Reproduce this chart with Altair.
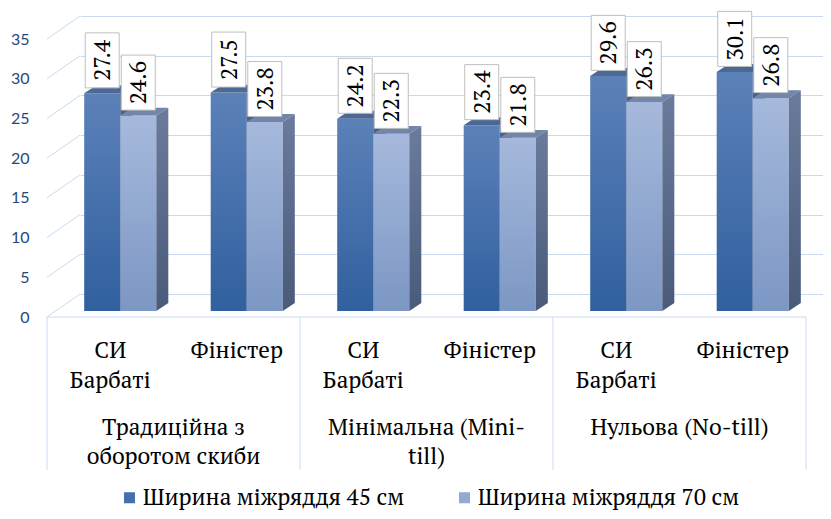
import altair as alt
import pandas as pd

# ---------------- data ----------------
groups = [["Традиційна з", "оборотом скиби"], ["Мінімальна (Mini-", "till)"], ["Нульова (No-till)"]]
varieties = [["СИ", "Барбаті"], ["Фіністер"]]
series = ["Ширина міжряддя 45 см", "Ширина міжряддя 70 см"]
values_45 = [27.4, 27.5, 24.2, 23.4, 29.6, 30.1]
values_70 = [24.6, 23.8, 22.3, 21.8, 26.3, 26.8]
y_ticks = [0, 5, 10, 15, 20, 25, 30, 35]

# ---------------- geometry / style ----------------
BW = 0.285   # bar width in slot units
DX = 0.095   # 3D depth in x (slot units)
DY = 1.0     # 3D depth in y (value units)
GRID = "#c8daf0"
SERIF = "PT Serif, Liberation Serif, serif"
FS = 23

def grad(top, bottom):
    return alt.Gradient(
        gradient="linear",
        stops=[alt.GradientStop(color=top, offset=0), alt.GradientStop(color=bottom, offset=1)],
        x1=0, x2=0, y1=0, y2=1,
    )

front_col = [grad("#5c81b9", "#30609e"), grad("#a6b9dc", "#7c97c4")]
top_col = ["#4c6894", "#7286a9"]
side_col = [grad("#4a6490", "#344d78"), grad("#6a7b9c", "#4a5a79")]
legend_col = ["#4470ad", "#93a9d2"]

n_slots = len(values_45)
rows_front, rows_top, rows_side = [], [], []
for i in range(n_slots):
    c = i + 0.5
    for s, vals in enumerate([values_45, values_70]):
        v = vals[i]
        xl = c - BW if s == 0 else c
        xr = c if s == 0 else c + BW
        bid = f"{i}_{s}"
        rows_front.append(dict(bar=bid, s=s, series=series[s], xl=xl, xr=xr,
                               c=(xl + xr) / 2, v=v, zero=0))
        rows_top += [
            dict(bar=bid, s=s, x=xl, y=v, y2=v),
            dict(bar=bid, s=s, x=xl + DX, y=v, y2=v + DY),
            dict(bar=bid, s=s, x=xr, y=v, y2=v + DY),
            dict(bar=bid, s=s, x=xr + DX, y=v + DY, y2=v + DY),
        ]
        rows_side += [
            dict(bar=bid, s=s, x=xr, y=0, y2=v),
            dict(bar=bid, s=s, x=xr + DX, y=DY, y2=v + DY),
        ]
df_front = pd.DataFrame(rows_front)
df_top = pd.DataFrame(rows_top)
df_side = pd.DataFrame(rows_side)

df_ticks = pd.DataFrame({"t": y_ticks, "front": [0] * len(y_ticks)})
df_var = pd.DataFrame({"c": [i + 0.5 for i in range(n_slots)],
                       "label": ["\n".join(varieties[i % 2]) for i in range(n_slots)]})
df_grp = pd.DataFrame({"c": [2 * g + 1 for g in range(len(groups))],
                       "label": ["\n".join(g) for g in groups]})
df_div = pd.DataFrame({"b": [0, 2, 4, 6], "zero": [0, 0, 0, 0]})
df_edge = pd.DataFrame({"b0": [0], "b1": [6], "zero": [0]})

xs = alt.Scale(domain=[0.2609, 6.1344], nice=False, zero=False)
ys = alt.Scale(domain=[0, 35], nice=False, zero=False)
yaxis = alt.Axis(values=y_ticks, grid=True, gridColor=GRID, gridWidth=1, domain=False,
                 ticks=False, tickSize=0, labelPadding=51, labelOffset=23,
                 labelFont="Lato", labelFontSize=16, labelColor="#1f497d", title=None)

# perspective pieces of the grid (front edge -> back wall)
diag = alt.Chart(df_ticks).mark_rule(color=GRID, strokeWidth=1, yOffset=23).encode(
    x=alt.X("front:Q", scale=xs, axis=None),
    x2=alt.value(0),
    y=alt.Y("t:Q", scale=ys, axis=yaxis),
    y2="t:Q",
)
# category box
box_top = alt.Chart(df_edge).mark_rule(color=GRID, strokeWidth=1, yOffset=23).encode(
    x=alt.X("b0:Q", scale=xs, axis=None), x2="b1:Q",
    y=alt.Y("zero:Q", scale=ys, axis=yaxis),
)
dividers = alt.Chart(df_div).mark_rule(color=GRID, strokeWidth=1, yOffset=23).encode(
    x=alt.X("b:Q", scale=xs, axis=None),
    y=alt.Y("zero:Q", scale=ys, axis=yaxis),
    y2=alt.value(454),
)

legend_layer = alt.Chart(df_front).mark_point(shape="square", filled=True, opacity=0).encode(
    x=alt.X("c:Q", scale=xs, axis=None),
    y=alt.Y("v:Q", scale=ys, axis=yaxis),
    color=alt.Color("series:N", scale=alt.Scale(domain=series, range=legend_col),
                    legend=alt.Legend(orient="none", legendX=38, legendY=470,
                                      direction="horizontal", title=None, padding=0,
                                      symbolType="square", symbolSize=121,
                                      symbolOpacity=1, symbolStrokeWidth=0,
                                      labelFont=SERIF, labelFontSize=FS,
                                      labelColor="black", labelOffset=2,
                                      columnPadding=48, labelLimit=0)),
)

bar_layers = []
for s in range(2):
    fr = alt.Chart(df_front[df_front.s == s]).mark_rect(
        color=front_col[s], xOffset=10, x2Offset=10, yOffset=17, y2Offset=17
    ).encode(
        x=alt.X("xl:Q", scale=xs, axis=None), x2="xr:Q",
        y=alt.Y("v:Q", scale=ys, axis=yaxis), y2="zero:Q",
    )
    tp = alt.Chart(df_top[df_top.s == s]).mark_area(
        color=top_col[s], orient="vertical", xOffset=10, yOffset=17, y2Offset=17
    ).encode(
        x=alt.X("x:Q", scale=xs, axis=None),
        y=alt.Y("y:Q", scale=ys, axis=yaxis), y2="y2:Q",
        detail="bar:N",
    )
    sd = alt.Chart(df_side[df_side.s == s]).mark_area(
        color=side_col[s], orient="vertical", xOffset=10, yOffset=17, y2Offset=17
    ).encode(
        x=alt.X("x:Q", scale=xs, axis=None),
        y=alt.Y("y:Q", scale=ys, axis=yaxis), y2="y2:Q",
        detail="bar:N",
    )
    bar_layers += [fr, tp, sd]

box_path = "M-0.618,-1L0.618,-1L0.618,1L-0.618,1Z"
lab_box = alt.Chart(df_front).mark_point(
    shape=box_path, size=3025, filled=True, fill="white", stroke="#bfbfbf",
    strokeWidth=1, opacity=1, xOffset=10, yOffset=-16
).encode(
    x=alt.X("c:Q", scale=xs, axis=None),
    y=alt.Y("v:Q", scale=ys, axis=yaxis),
)
lab_txt = alt.Chart(df_front).mark_text(
    angle=270, font=SERIF, fontSize=FS, color="black", align="center",
    baseline="middle", xOffset=11, yOffset=-16
).encode(
    x=alt.X("c:Q", scale=xs, axis=None),
    y=alt.Y("v:Q", scale=ys, axis=yaxis),
    text=alt.Text("v:Q", format=".1f"),
)

var_txt = alt.Chart(df_var).mark_text(
    font=SERIF, fontSize=FS, color="black", align="center", baseline="alphabetic",
    lineBreak="\n", lineHeight=30
).encode(
    x=alt.X("c:Q", scale=xs, axis=None), y=alt.value(342), text="label:N",
)
grp_txt = alt.Chart(df_grp).mark_text(
    font=SERIF, fontSize=FS, color="black", align="center", baseline="alphabetic",
    lineBreak="\n", lineHeight=29
).encode(
    x=alt.X("c:Q", scale=xs, axis=None), y=alt.value(419), text="label:N",
)

chart = alt.layer(
    diag, box_top, dividers, legend_layer, *bar_layers, lab_box, lab_txt, var_txt, grp_txt
).properties(
    width=743, height=278, autosize="none",
    padding={"left": 72, "top": 8, "right": 0, "bottom": 217},
).configure_view(stroke=None)

chart.save("out.html", embed_options={"renderer": "svg", "actions": False})
